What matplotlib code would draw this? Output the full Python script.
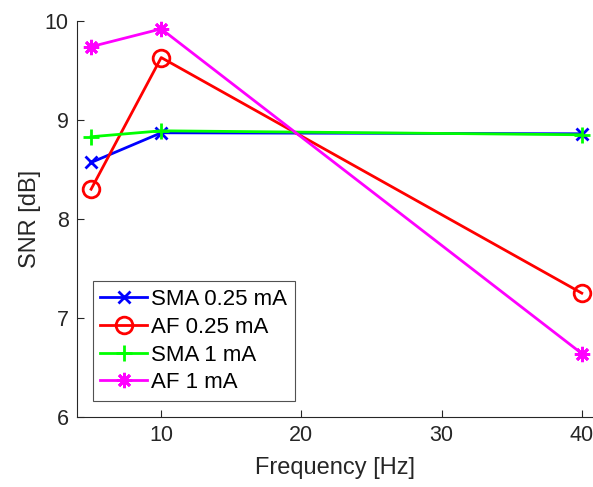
import matplotlib
matplotlib.use("Agg")
import matplotlib.pyplot as plt

plt.rcParams['font.family'] = ['Liberation Sans', 'DejaVu Sans']

freq = [5, 10, 40]
sma_025 = [8.57, 8.87, 8.86]
af_025 = [8.30, 9.63, 7.25]
sma_1 = [8.83, 8.89, 8.85]
af_1 = [9.74, 9.92, 6.64]

labels = ["SMA 0.25 mA", "AF 0.25 mA", "SMA 1 mA", "AF 1 mA"]
xticks = [10, 20, 30, 40]
yticks = [6, 7, 8, 9, 10]

axis_col = "#262626"

fig = plt.figure(figsize=(5.93, 4.87), dpi=100)
ax = fig.add_axes([0.130, 0.144, 0.870, 0.813])

lw = 2.0
ax.plot(freq, sma_025, color=(0, 0, 1), lw=lw, marker='x', ms=9, mew=lw, label=labels[0])
ax.plot(freq, af_025, color=(1, 0, 0), lw=lw, marker='o', ms=12, mew=lw,
        mfc='none', label=labels[1])
ax.plot(freq, sma_1, color=(0, 1, 0), lw=lw, marker='+', ms=12, mew=lw, label=labels[2])
ax.plot(freq, af_1, color=(1, 0, 1), lw=lw, marker=(8, 2, 0), ms=11, mew=lw, label=labels[3])

ax.set_xlim(4, 40.8)
ax.set_ylim(6, 10)
ax.set_xticks(xticks)
ax.set_yticks(yticks)

for side in ("top", "right"):
    ax.spines[side].set_visible(False)
for side in ("left", "bottom"):
    ax.spines[side].set_color(axis_col)
    ax.spines[side].set_linewidth(0.8)
ax.tick_params(direction='in', length=5, width=0.8, colors=axis_col,
               labelsize=15.5, pad=6)

ax.set_xlabel("Frequency [Hz]", fontsize=17, color=axis_col, labelpad=8)
ax.set_ylabel("SNR [dB]", fontsize=17, color=axis_col, labelpad=3)

leg = ax.legend(loc='lower left', bbox_to_anchor=(0.03, 0.04), fontsize=16,
                frameon=True, fancybox=False, edgecolor=axis_col,
                handlelength=2.1, handletextpad=0.2, borderpad=0.35,
                labelspacing=0.3, borderaxespad=0)
leg.get_frame().set_linewidth(0.8)

fig.savefig("out.png", dpi=100)
